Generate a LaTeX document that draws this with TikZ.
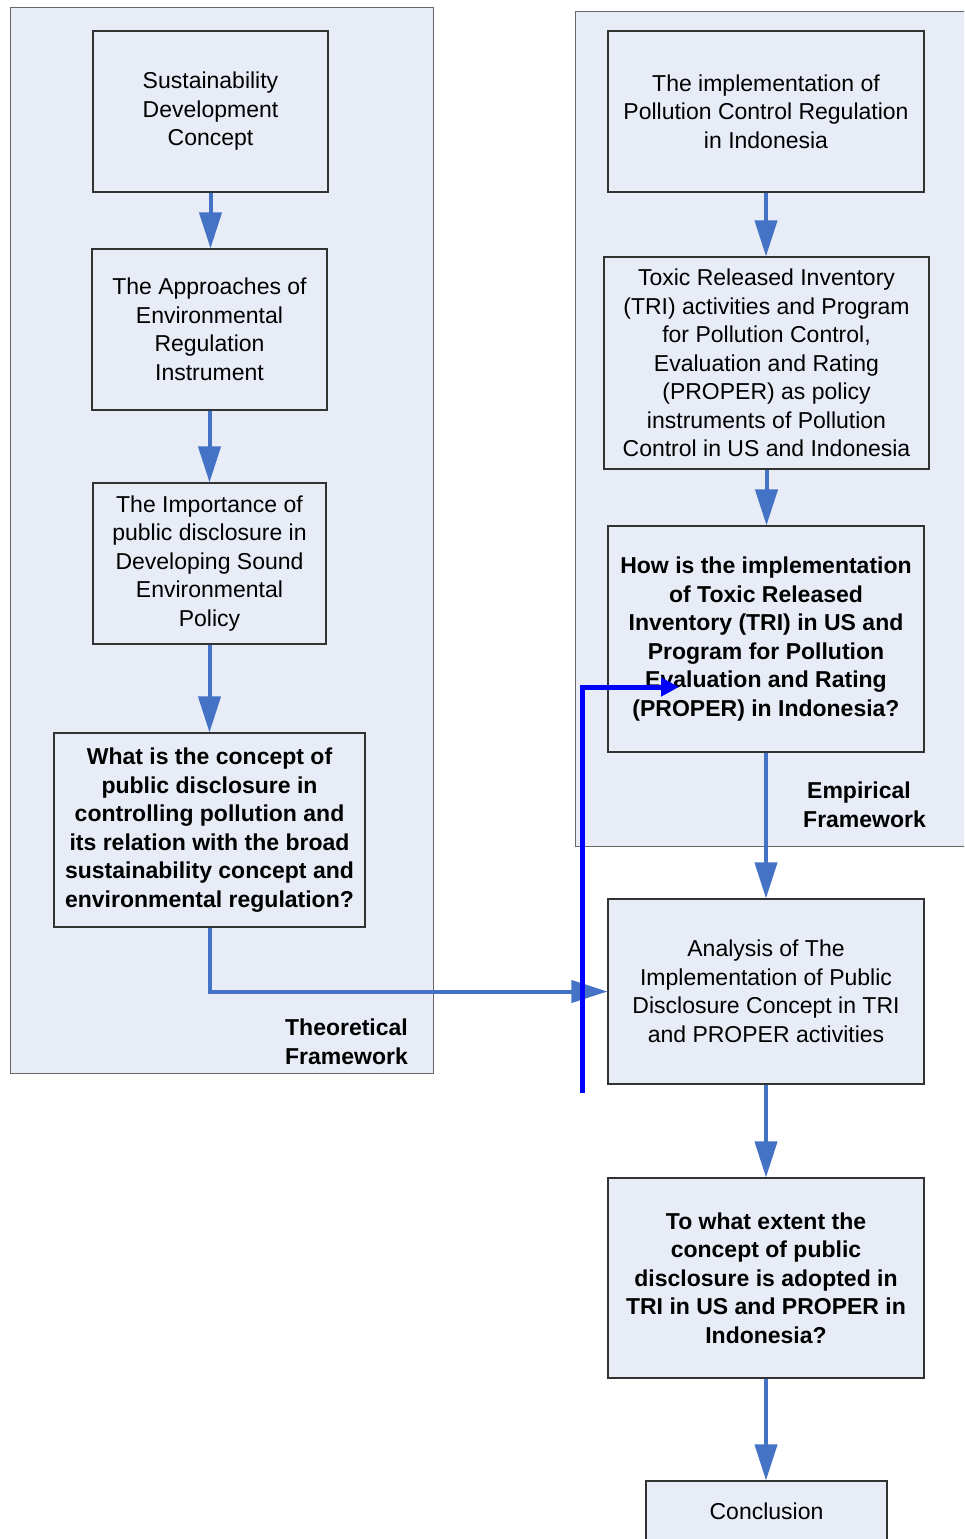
\documentclass[tikz,border=0pt]{standalone}
\usepackage{fontspec}
\setmainfont{Liberation Sans}
\usetikzlibrary{arrows.meta}
\definecolor{panelfill}{RGB}{231,236,246}
\definecolor{flowblue}{RGB}{68,114,196}
\begin{document}
\begin{tikzpicture}[x=1pt,y=-1pt,
  panel/.style={draw=black!60, line width=1pt, fill=panelfill},
  stepbox/.style={draw=black!80, line width=1.1pt, fill=panelfill, inner sep=0pt,
    align=center, font=\fontsize{23}{28.5}\selectfont},
  question/.style={stepbox, font=\fontsize{23}{28.6}\selectfont\bfseries},
  framelabel/.style={inner sep=0pt, font=\fontsize{23}{28.5}\selectfont\bfseries},
  flow/.style={draw=flowblue, line width=4pt, -{Triangle[length=36pt,width=22pt]}},
  jog/.style={draw=blue, line width=5pt, line join=miter, -{Triangle[length=18pt,width=18pt]}}
]
\useasboundingbox (0,0) rectangle (964,1539);
\clip (0,0) rectangle (964,1539);

% framework panels
\draw[panel] (10,7) rectangle (433,1073);
\draw[panel] (575,11) rectangle (990,846);

% theoretical column
\node[stepbox, minimum width=235pt, minimum height=161pt] (b1) at (210.5,111.5)
  {Sustainability\\Development\\Concept};
\node[stepbox, minimum width=235pt, minimum height=161pt] (b2) at (209.5,329.5)
  {The Approaches of\\Environmental\\Regulation\\Instrument};
\node[stepbox, minimum width=233pt, minimum height=161pt] (b3) at (209.5,563.5)
  {The Importance of\\public disclosure in\\Developing Sound\\Environmental\\Policy};
\node[question, minimum width=311pt, minimum height=194pt] (b4) at (209.5,830)
  {What is the concept of\\public disclosure in\\controlling pollution and\\its relation with the broad\\sustainability concept and\\environmental regulation?};

% empirical column
\node[stepbox, minimum width=316pt, minimum height=161pt] (r1) at (766,111.5)
  {The implementation of\\Pollution Control Regulation\\in Indonesia};
\node[stepbox, minimum width=325pt, minimum height=212pt] (r2) at (766.5,363)
  {Toxic Released Inventory\\(TRI) activities and Program\\for Pollution Control,\\Evaluation and Rating\\(PROPER) as policy\\instruments of Pollution\\Control in US and Indonesia};
\node[question, minimum width=316pt, minimum height=226pt] (r3) at (766,639)
  {How is the implementation\\of Toxic Released\\Inventory (TRI) in US and\\Program for Pollution\\Evaluation and Rating\\(PROPER) in Indonesia?};
\node[stepbox, minimum width=316pt, minimum height=185pt] (r4) at (766,991.5)
  {Analysis of The\\Implementation of Public\\Disclosure Concept in TRI\\and PROPER activities};
\node[question, minimum width=316pt, minimum height=200pt] (r5) at (766,1278)
  {To what extent the\\concept of public\\disclosure is adopted in\\TRI in US and PROPER in\\Indonesia?};
\node[stepbox, minimum width=241pt, minimum height=60pt] (r6) at (766.5,1511)
  {Conclusion};

% panel captions
\node[framelabel, align=center] (tf) at (346.5,1042) {Theoretical\\Framework};
\node[framelabel, align=left, anchor=west] (ef) at (803,805) {\hspace*{4pt}Empirical\\Framework};

% flow arrows
\draw[flow] (b1.south) -- (b1.south |- b2.north);
\draw[flow] (b2.south) -- (b2.south |- b3.north);
\draw[flow] (b3.south) -- (b3.south |- b4.north);
\draw[flow] (r1.south) -- (r1.south |- r2.north);
\draw[flow] (r2.south) -- (r2.south |- r3.north);
\draw[flow] (r3.south) -- (r3.south |- r4.north);
\draw[flow] (r4.south) -- (r4.south |- r5.north);
\draw[flow] (r5.south) -- (r5.south |- r6.north);
\draw[flow, line join=miter] (b4.south) |- (r4.west);

% feedback line
\coordinate (jogbase) at (582,1093);
\coordinate (jogtip) at (679,687);
\draw[jog] (jogbase) |- (jogtip);
\end{tikzpicture}
\end{document}
